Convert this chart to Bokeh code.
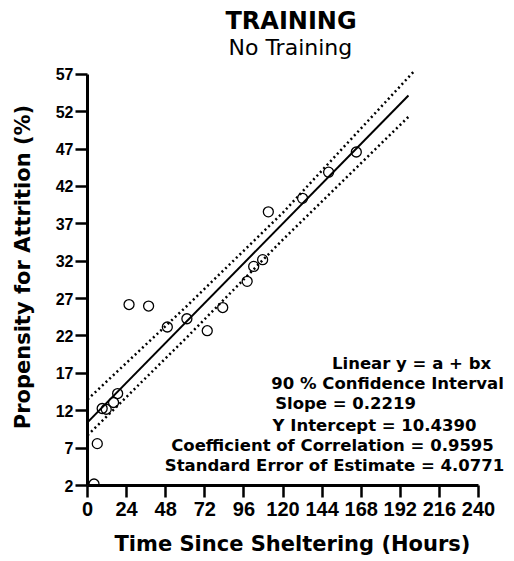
import math
from bokeh.plotting import figure
from bokeh.models import Range1d, FixedTicker, Label, Title
from bokeh.embed import file_html
from bokeh.resources import INLINE

# ---- data ----
obs_hours = [4, 6, 9, 11.5, 16, 18.5, 25.5, 37.5, 49, 61, 73.5, 83, 98, 102, 107.5, 111, 132, 148, 165]
obs_prop = [2.2, 7.6, 12.3, 12.2, 13.1, 14.3, 26.2, 26.0, 23.2, 24.3, 22.7, 25.8, 29.3, 31.3, 32.2, 38.6, 40.4, 43.9, 46.6]

fit_x = [0, 197]
fit_y = [10.44, 54.15]

upper_x = [0, 60, 120, 200]
upper_y = [13.5, 25.8, 38.5, 57.3]
lower_x = [0, 60, 120, 197]
lower_y = [8.7, 21.6, 34.9, 51.3]

x_ticks = [0, 24, 48, 72, 96, 120, 144, 168, 192, 216, 240]
y_ticks = [2, 7, 12, 17, 22, 27, 32, 37, 42, 47, 52, 57]

stats_lines = [
    "Linear y = a + bx",
    "90 % Confidence Interval",
    "Slope = 0.2219",
    "Y Intercept = 10.4390",
    "Coefficient of Correlation = 0.9595",
    "Standard Error of Estimate = 4.0771",
]
# ---- layout / styling ----
stats_x = [198.9, 184.2, 158.4, 176.2, 150.4, 151.6]
stats_y = [18.26, 15.58, 12.93, 10.03, 7.35, 4.61]

X_END = 259.64
Y_END = 57.5
p = figure(frame_width=423, frame_height=415,
           x_range=Range1d(0, X_END), y_range=Range1d(2, Y_END),
           output_backend="svg", toolbar_location=None, title=None,
           min_border_left=87, min_border_right=4,
           min_border_top=70, min_border_bottom=74)
p.outline_line_color = None
p.grid.visible = False
p.background_fill_color = "white"
p.border_fill_color = "white"

for ax in (p.xaxis[0], p.yaxis[0]):
    ax.axis_line_width = 3
    ax.axis_line_color = "black"
    ax.major_tick_line_width = 2.5
    ax.major_tick_line_color = "black"
    ax.minor_tick_line_color = None
    ax.major_tick_in = 0
    ax.major_label_text_font = "Liberation Sans"
    ax.major_label_text_font_style = "bold"
    ax.major_label_text_color = "black"

p.xaxis.bounds = (0, 240)
p.yaxis.bounds = (2, 57)
p.xaxis.ticker = FixedTicker(ticks=x_ticks)
p.yaxis.ticker = FixedTicker(ticks=y_ticks)
p.xaxis.major_tick_out = 12
p.yaxis.major_tick_out = 12
p.xaxis.major_label_text_font_size = "20px"
p.yaxis.major_label_text_font_size = "16px"
p.xaxis.major_label_standoff = 4
p.yaxis.major_label_standoff = 2

# y axis title (leading no-break spaces nudge the centred title upwards)
p.yaxis.axis_label = "\u00a0\u00a0\u00a0Propensity for Attrition (%)"
p.yaxis.axis_label_text_font = "DejaVu Sans"
p.yaxis.axis_label_text_font_style = "bold"
p.yaxis.axis_label_text_font_size = "21px"
p.yaxis.axis_label_text_color = "black"
p.yaxis.axis_label_standoff = 18

# x axis title
p.add_layout(Title(text="Time Since Sheltering (Hours)", align="left", offset=27,
                   text_font="DejaVu Sans", text_font_style="bold", text_font_size="21px",
                   text_color="black", standoff=22), "below")

# titles
p.add_layout(Title(text="No Training", align="left", offset=141, text_font="DejaVu Sans",
                   text_font_style="normal", text_font_size="22px", text_color="black",
                   standoff=21), "above")
p.add_layout(Title(text="TRAINING", align="left", offset=138, text_font="DejaVu Sans",
                   text_font_style="bold", text_font_size="24px", text_color="black",
                   standoff=-25), "above")

# confidence band (dotted)
p.line(upper_x, upper_y, line_color="black", line_width=2.5, line_dash="2 3")
p.line(lower_x, lower_y, line_color="black", line_width=2.5, line_dash="2 3")
# regression line
p.line(fit_x, fit_y, line_color="black", line_width=2)
# observations
p.scatter(obs_hours, obs_prop, marker="circle", size=10, fill_color=None,
          line_color="black", line_width=1.3)

for t, xx, yy in zip(stats_lines, stats_x, stats_y):
    p.add_layout(Label(x=xx, y=yy, text=t, text_align="center", text_baseline="middle",
                       text_font="DejaVu Sans", text_font_style="bold",
                       text_font_size="16.5px", text_color="black"))

open("out.html", "w").write(file_html(p, INLINE))
